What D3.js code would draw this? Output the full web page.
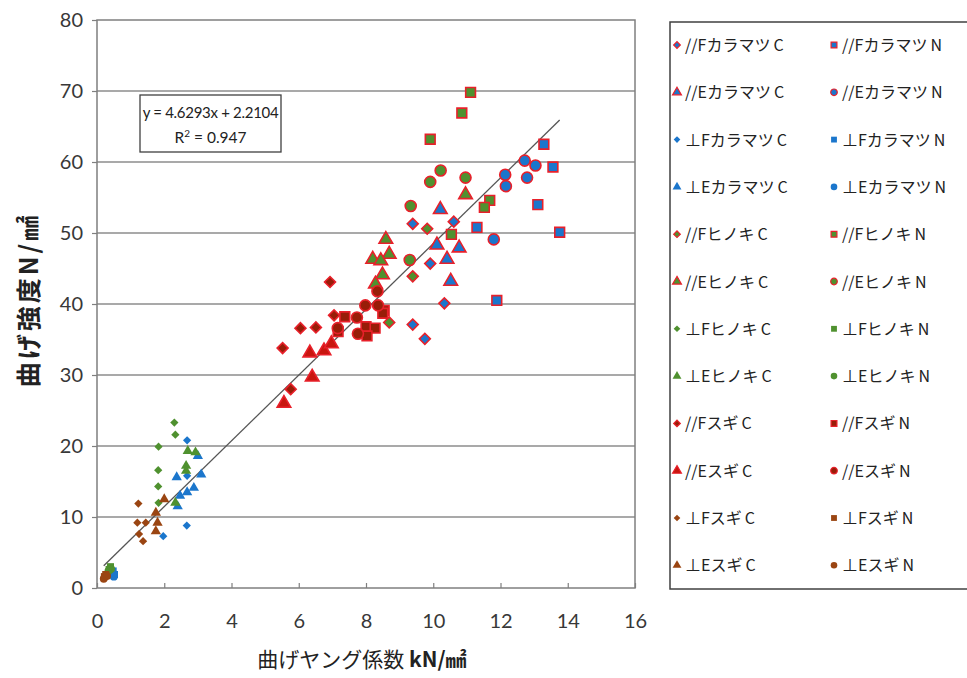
<!DOCTYPE html>
<html>
<head>
<meta charset="utf-8">
<script src="https://cdn.jsdelivr.net/npm/d3@7"></script>
<style>
  body { margin: 0; background: #fff; }
  svg { display: block; }
</style>
</head>
<body>
<svg id="chart" width="967" height="678"></svg>
<script>
'use strict';

// ---- data: [E (kN/mm2), strength (N/mm2)] ----
// カラマツ
var kPFC = [[9.39, 51.3], [10.61, 51.6], [9.91, 45.7], [10.33, 40.1], [9.39, 37.1], [9.75, 35.1]];
var kPFN = [[13.29, 62.5], [13.56, 59.3], [13.11, 54.0], [11.30, 50.8], [13.76, 50.1], [11.89, 40.5]];
var kPEC = [[10.21, 53.3], [10.11, 48.3], [10.77, 47.9], [10.41, 46.3], [10.52, 43.2]];
var kPEN = [[12.72, 60.2], [13.04, 59.5], [12.14, 58.2], [12.79, 57.8], [12.16, 56.6], [11.80, 49.1]];
var kTFC = [[2.68, 20.8], [2.68, 15.8], [2.67, 8.8], [1.97, 7.3]];
var kTFN = [[0.48, 2.4], [0.52, 1.9]];
var kTEC = [[3.00, 18.6], [3.10, 16.0], [2.37, 15.6], [2.88, 14.1], [2.68, 13.5], [2.47, 13.0], [2.40, 11.5]];
var kTEN = [[0.45, 2.1], [0.50, 1.6]];
// ヒノキ
var hPFC = [[9.82, 50.6], [9.39, 43.9], [8.69, 37.4]];
var hPFN = [[11.11, 69.8], [10.85, 66.9], [9.91, 63.2], [11.68, 54.6], [11.52, 53.6], [10.54, 49.8]];
var hPEC = [[10.96, 55.4], [8.59, 49.1], [8.69, 47.0], [8.20, 46.3], [8.44, 46.1], [8.49, 44.1], [8.28, 42.8]];
var hPEN = [[10.22, 58.8], [9.91, 57.2], [10.96, 57.8], [9.33, 53.8], [9.30, 46.2]];
var hTFC = [[2.30, 23.3], [2.33, 21.6], [1.83, 19.9], [1.82, 16.6], [1.82, 14.3], [1.83, 12.0]];
var hTFN = [[0.40, 3.0], [0.36, 2.6]];
var hTEC = [[2.70, 19.3], [2.93, 19.1], [2.65, 17.2], [2.65, 16.5], [2.33, 12.0]];
var hTEN = [[0.34, 2.4], [0.42, 2.7]];
// スギ
var sPFC = [[6.93, 43.1], [7.05, 38.4], [6.05, 36.6], [6.51, 36.7], [5.52, 33.8], [5.76, 28.0]];
var sPFN = [[8.54, 39.1], [8.50, 38.7], [7.37, 38.2], [7.17, 36.1], [8.00, 36.8], [8.27, 36.6], [8.03, 35.5]];
var sPEC = [[6.33, 33.1], [6.75, 33.4], [6.97, 34.4], [6.40, 29.7], [5.56, 26.0]];
var sPEN = [[7.98, 39.8], [8.36, 39.8], [8.34, 41.8], [7.73, 38.1], [7.16, 36.6], [7.76, 35.8]];
var sTFC = [[1.23, 11.9], [1.45, 9.2], [1.20, 9.2], [1.25, 7.6], [1.37, 6.6]];
var sTFN = [[0.22, 1.6], [0.26, 1.9]];
var sTEC = [[2.00, 12.5], [1.75, 10.6], [1.80, 9.2], [1.75, 8.0]];
var sTEN = [[0.20, 1.3], [0.30, 1.7]];

var seriesLabels = [
  '//Fカラマツ|C', '//Fカラマツ|N', '//Eカラマツ|C', '//Eカラマツ|N',
  '⊥Fカラマツ|C', '⊥Fカラマツ|N', '⊥Eカラマツ|C', '⊥Eカラマツ|N',
  '//Fヒノキ|C', '//Fヒノキ|N', '//Eヒノキ|C', '//Eヒノキ|N',
  '⊥Fヒノキ|C', '⊥Fヒノキ|N', '⊥Eヒノキ|C', '⊥Eヒノキ|N',
  '//Fスギ|C', '//Fスギ|N', '//Eスギ|C', '//Eスギ|N',
  '⊥Fスギ|C', '⊥Fスギ|N', '⊥Eスギ|C', '⊥Eスギ|N'
];
var seriesData = [kPFC, kPFN, kPEC, kPEN, kTFC, kTFN, kTEC, kTEN,
                  hPFC, hPFN, hPEC, hPEN, hTFC, hTFN, hTEC, hTEN,
                  sPFC, sPFN, sPEC, sPEN, sTFC, sTFN, sTEC, sTEN];

var xTicks = [0, 2, 4, 6, 8, 10, 12, 14, 16];
var yTicks = [0, 10, 20, 30, 40, 50, 60, 70, 80];
var fitSlope = 4.6293, fitIntercept = 2.2104;

// ---- styles ----
var blue = '#1b76cc', green = '#4f912f', red = '#e8202a',
    darkRed = '#981d08', brown = '#9a4512';
var shapes = ['diamond', 'square', 'triangle', 'circle'];
var speciesFill = [blue, green, darkRed];
var perpFill = [blue, green, brown];

function styleFor(i) {
  var sp = Math.floor(i / 8), k = i % 8, par = k < 4;
  var shape = shapes[k % 4];
  var fill = par ? speciesFill[sp] : perpFill[sp];
  if (sp === 2 && par && shape === 'triangle') fill = '#c8160f';
  return {shape: shape, fill: fill, stroke: par ? red : 'none', big: par};
}

var symbolTypes = {diamond: d3.symbolSquare, square: d3.symbolSquare,
                   triangle: d3.symbolTriangle, circle: d3.symbolCircle};

function symbolPath(st) {
  var size = {diamond: st.big ? 60 : 34, square: st.big ? 95 : 50,
              triangle: st.big ? 80 : 46, circle: st.big ? 95 : 48}[st.shape];
  return d3.symbol().type(symbolTypes[st.shape]).size(size)();
}

var svg = d3.select('#chart');
var x = d3.scaleLinear().domain([0, 16]).range([97, 635]);
var y = d3.scaleLinear().domain([0, 80]).range([588, 20]);

var latin = 'Lato, "Noto Sans CJK JP", sans-serif';

// gridlines
svg.append('g')
  .selectAll('line')
  .data(yTicks.slice(1, -1))
  .enter().append('line')
  .attr('x1', x(0)).attr('x2', x(16))
  .attr('y1', function (d) { return y(d); })
  .attr('y2', function (d) { return y(d); })
  .style('stroke', '#8c8c8c')
  .style('stroke-width', 1.5);

// plot frame
svg.append('rect')
  .attr('x', x(0)).attr('y', y(80))
  .attr('width', x(16) - x(0)).attr('height', y(0) - y(80))
  .style('fill', 'none').style('stroke', '#7f7f7f').style('stroke-width', 1.5);

// axes
var xAxis = svg.append('g')
  .attr('transform', 'translate(0,' + y(0) + ')')
  .call(d3.axisBottom(x).tickValues(xTicks).tickSizeInner(-5).tickSizeOuter(0).tickPadding(26));
var yAxis = svg.append('g')
  .attr('transform', 'translate(' + x(0) + ',0)')
  .call(d3.axisLeft(y).tickValues(yTicks).tickSizeInner(5).tickSizeOuter(0).tickPadding(9));
[xAxis, yAxis].forEach(function (a) {
  a.select('.domain').remove();
  a.selectAll('line').style('stroke', '#7f7f7f').style('stroke-width', 1.2);
  a.selectAll('text').style('font', '20px ' + latin).style('fill', '#383838');
});

// trendline over data range
var allX = [].concat.apply([], seriesData).map(function (d) { return d[0]; });
var xr = d3.extent(allX);
svg.append('line')
  .attr('x1', x(xr[0])).attr('y1', y(fitSlope * xr[0] + fitIntercept))
  .attr('x2', x(xr[1])).attr('y2', y(fitSlope * xr[1] + fitIntercept))
  .style('stroke', '#555').style('stroke-width', 1.3);

// points
seriesData.forEach(function (data, i) {
  var st = styleFor(i);
  var path = symbolPath(st);
  svg.append('g')
    .selectAll('path')
    .data(data)
    .enter().append('path')
    .attr('d', path)
    .attr('transform', function (d) {
      return 'translate(' + x(d[0]) + ',' + y(d[1]) + ')' + (st.shape === 'diamond' ? ' rotate(45)' : '');
    })
    .style('fill', st.fill)
    .style('stroke', st.stroke)
    .style('stroke-width', 1.6);
});

// equation box
var eq = svg.append('g');
eq.append('rect')
  .attr('x', 140).attr('y', 95).attr('width', 141).attr('height', 57)
  .style('fill', '#fff').style('stroke', '#404040').style('stroke-width', 1.3);
eq.append('text')
  .attr('x', 210.5).attr('y', 118).attr('text-anchor', 'middle')
  .style('font', '15px ' + latin).style('letter-spacing', '-0.3px').style('fill', '#222')
  .text('y = ' + fitSlope + 'x + ' + fitIntercept);
var r2 = eq.append('text')
  .attr('x', 210.5).attr('y', 143).attr('text-anchor', 'middle')
  .style('font', '15.5px ' + latin).style('fill', '#222');
r2.append('tspan').text('R');
r2.append('tspan').attr('dy', -6).style('font-size', '10px').text('2');
r2.append('tspan').attr('dy', 6).text(' = 0.947');

// axis titles
var xt = svg.append('text')
  .attr('x', 362).attr('y', 667).attr('text-anchor', 'middle')
  .style('font', '21px "Noto Sans CJK JP", sans-serif').style('fill', '#222');
xt.append('tspan').text('曲げヤング係数 ');
xt.append('tspan').style('font-weight', 'bold').text(' kN/㎟');

svg.append('text')
  .attr('transform', 'translate(38,300) rotate(-90)')
  .attr('text-anchor', 'middle')
  .style('font', 'bold 25px "Noto Sans CJK JP", sans-serif')
  .style('letter-spacing', '3px')
  .style('fill', '#222')
  .text('曲げ強度N/㎟');

// legend
var lg = svg.append('g');
lg.append('rect')
  .attr('x', 670).attr('y', 22).attr('width', 300).attr('height', 567)
  .style('fill', '#fff').style('stroke', '#404040').style('stroke-width', 1.5);

var item = lg.selectAll('g.item')
  .data(seriesLabels)
  .enter().append('g')
  .attr('class', 'item')
  .attr('transform', function (d, i) {
    var col = i % 2, row = Math.floor(i / 2);
    return 'translate(' + (col === 0 ? 677 : 834) + ',' + (45 + row * 47.3) + ')';
  });

item.append('path')
  .attr('d', function (d, i) {
    var st = styleFor(i);
    return d3.symbol().type(symbolTypes[st.shape]).size(st.shape === 'diamond' ? 22 : 34)();
  })
  .attr('transform', function (d, i) { return styleFor(i).shape === 'diamond' ? 'rotate(45)' : null; })
  .style('fill', function (d, i) { return styleFor(i).fill; })
  .style('stroke', function (d, i) { return styleFor(i).stroke; })
  .style('stroke-width', 1.2);

var lt = item.append('text')
  .attr('x', 8).attr('y', 6)
  .style('font', '16px "Noto Sans CJK JP", sans-serif').style('fill', '#222');
lt.append('tspan').text(function (d) { return d.split('|')[0]; });
lt.append('tspan').attr('dx', 3).text(function (d) { return d.split('|')[1]; });
</script>
</body>
</html>
